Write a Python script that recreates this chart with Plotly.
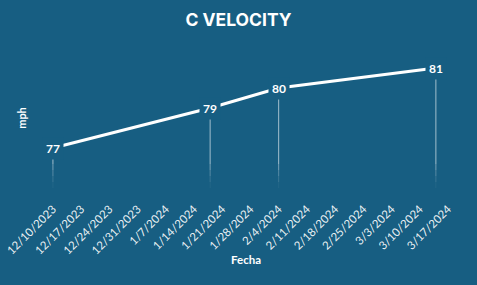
import plotly.graph_objects as go

dates = ["2023-12-10", "2024-01-18", "2024-02-04", "2024-03-14"]
speeds = [77, 79, 80, 81]
tick_start = "2023-12-10"

BG = "#175E82"
FONT = "Lato"
Y_MIN, Y_MAX = 75, 82

fig = go.Figure()

# drop lines from baseline to each point, fading toward the bottom
fade_levels = [(Y_MIN, 75.3, 0.05), (75.3, 75.6, 0.15), (75.6, 75.9, 0.28),
               (75.9, 76.2, 0.42), (76.2, None, 0.6)]
for lo, hi, op in fade_levels:
    dx, dy = [], []
    for d, v in zip(dates, speeds):
        top = v if hi is None else min(hi, v)
        dx += [d, d, None]
        dy += [lo, top, None]
    fig.add_trace(go.Scatter(x=dx, y=dy, mode="lines",
                             line=dict(color=f"rgba(255,255,255,{op})", width=1),
                             hoverinfo="skip", showlegend=False))

fig.add_trace(go.Scatter(x=dates, y=speeds, mode="lines",
                         line=dict(color="white", width=3),
                         showlegend=False))

for d, v in zip(dates, speeds):
    fig.add_annotation(x=d, y=v, text=str(v), showarrow=False,
                       font=dict(family=FONT, size=12, color="white", weight="bold"),
                       bgcolor=BG, borderpad=3)

fig.update_layout(
    width=477, height=285,
    paper_bgcolor=BG, plot_bgcolor=BG,
    margin=dict(l=40, r=25, t=48, b=97),
    title=dict(text="C VELOCITY", x=0.5, xanchor="center", y=0.93, yanchor="middle",
               font=dict(family="Inter", size=17.5, color="white", weight="bold")),
    xaxis=dict(range=["2023-12-06 19:00", "2024-03-18 00:00"], showgrid=False, zeroline=False,
               tickmode="linear", tick0=tick_start, dtick=7 * 86400000,
               tickformat="%-m/%-d/%Y", tickangle=-45,
               tickfont=dict(family=FONT, size=11.5, color="rgba(255,255,255,0.92)"),
               showline=False, ticks="outside", ticklen=9, tickcolor="rgba(0,0,0,0)",
               automargin=False,
               title=dict(text="Fecha", standoff=0,
                          font=dict(family=FONT, size=11.5, color="white", weight="bold"))),
    yaxis=dict(range=[Y_MIN, Y_MAX], showgrid=False, zeroline=False, showticklabels=False,
               showline=False, ticks="", automargin=False,
               title=dict(text="mph", standoff=10,
                          font=dict(family=FONT, size=11, color="white", weight="bold"))),
)

fig.write_html("out.html")
